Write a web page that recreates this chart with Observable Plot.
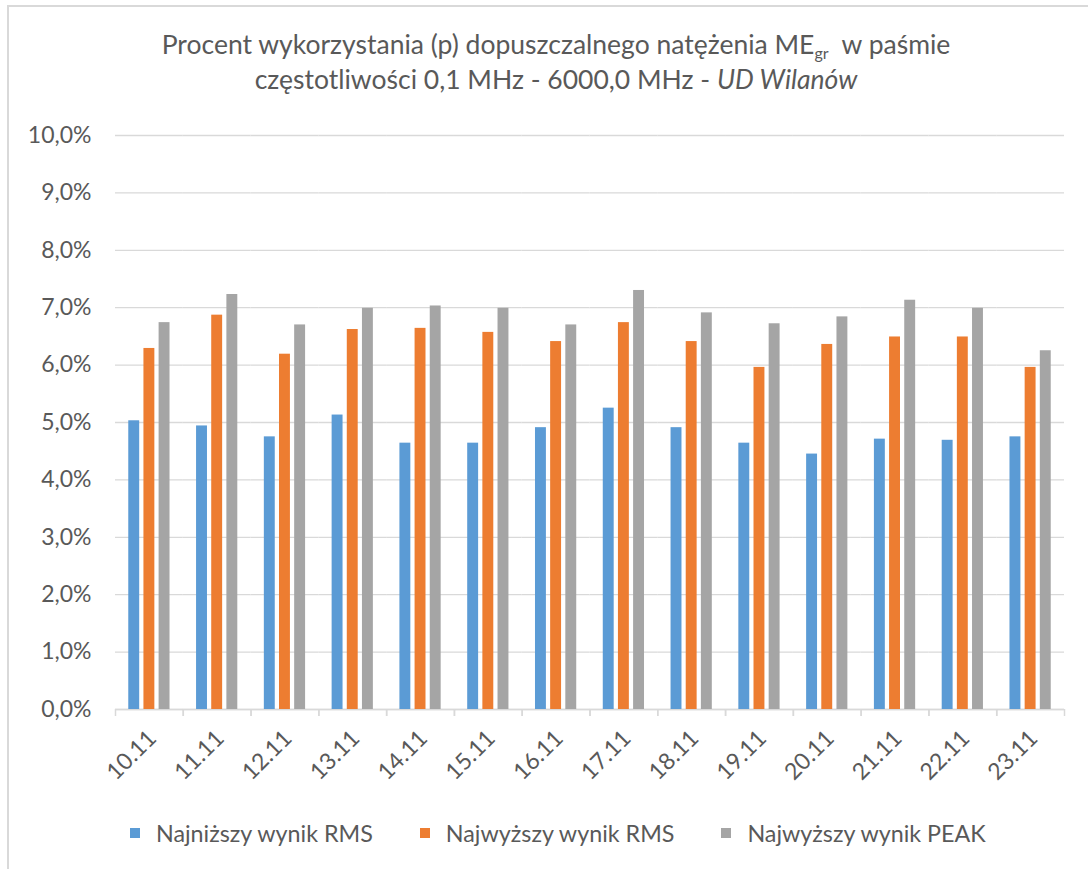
<!DOCTYPE html>
<html>
<head>
<meta charset="utf-8">
<script src="https://cdn.jsdelivr.net/npm/d3@7"></script>
<script src="https://cdn.jsdelivr.net/npm/@observablehq/plot@0.6"></script>
<style>
  html, body { margin: 0; padding: 0; background: #fff; width: 1088px; height: 869px; overflow: hidden; }
  #frame { position: absolute; left: 7px; top: 5px; width: 1200px; height: 1000px; border: 2px solid #d9d9d9; box-sizing: border-box; }
  #title { position: absolute; left: 0; top: 27px; width: 1112px; text-align: center; font-family: Lato, sans-serif; font-size: 26.5px; line-height: 35px; color: #595959; }
  #title sub { font-size: 16px; vertical-align: -5px; line-height: 0; }
  #chart { position: absolute; left: 8px; top: 110px; }
  #legend { position: absolute; left: 130px; top: 818px; display: flex; font-family: Lato, sans-serif; font-size: 23.3px; color: #595959; line-height: 30px; }
  #legend .item { display: flex; align-items: center; margin-right: 47px; }
  #legend .sw { width: 10px; height: 10px; margin-right: 16px; }
</style>
</head>
<body>
<div id="frame"></div>
<div id="title">Procent wykorzystania (p) dopuszczalnego natężenia ME<sub>gr</sub>&nbsp; w paśmie<br>częstotliwości 0,1 MHz - 6000,0 MHz - <i>UD Wilanów</i></div>
<div id="chart"></div>
<div id="legend"></div>
<script>
const dates = ["10.11","11.11","12.11","13.11","14.11","15.11","16.11","17.11","18.11","19.11","20.11","21.11","22.11","23.11"];
const seriesNames = ["Najniższy wynik RMS", "Najwyższy wynik RMS", "Najwyższy wynik PEAK"];
const lowRMS  = [5.03, 4.94, 4.75, 5.13, 4.64, 4.64, 4.91, 5.25, 4.91, 4.64, 4.45, 4.71, 4.69, 4.75];
const highRMS = [6.29, 6.87, 6.19, 6.62, 6.64, 6.57, 6.41, 6.74, 6.41, 5.96, 6.36, 6.49, 6.49, 5.96];
const peak    = [6.74, 7.23, 6.70, 6.99, 7.03, 6.99, 6.70, 7.30, 6.91, 6.72, 6.84, 7.13, 6.99, 6.25];
const yTicks = [0, 1, 2, 3, 4, 5, 6, 7, 8, 9, 10];
const colors = ["#5b9bd5", "#ed7d31", "#a5a5a5"];

const seriesValues = [lowRMS, highRMS, peak];
const rows = [];
dates.forEach((d, i) => seriesNames.forEach((s, j) => rows.push({date: d, series: s, value: seriesValues[j][i]})));

const fmt = v => v.toFixed(1).replace(".", ",") + "%";

const W = 1080, ML = 107, MR = 24;
const half = (W - ML - MR) / dates.length / 2;

const chart = Plot.plot({
  width: W, height: 689,
  marginLeft: ML, marginRight: MR, marginTop: 25, marginBottom: 90,
  style: {fontFamily: "Lato, sans-serif", fontSize: "23px", color: "#595959", background: "transparent"},
  fx: {domain: dates, padding: 0, round: false, label: null},
  x: {domain: seriesNames, paddingInner: 0.28, paddingOuter: 0.875, round: false, axis: null},
  y: {domain: [0, 10], label: null},
  color: {domain: seriesNames, range: colors},
  marks: [
    Plot.gridY(yTicks, {stroke: "#d9d9d9", strokeOpacity: 1, strokeWidth: 1.3}),
    Plot.axisY(yTicks, {tickSize: 0, tickPadding: 24, tickFormat: fmt, label: null}),
    Plot.ruleY([0], {stroke: "#d9d9d9", strokeWidth: 1.5}),
    Plot.barY(rows, {fx: "date", x: "series", y: "value", fill: "series"}),
    Plot.axisFx({anchor: "bottom", tickSize: 7, tickFormat: () => "", dx: -half, stroke: "#d9d9d9", strokeWidth: 1.5, label: null}),
    Plot.axisFx([dates[dates.length - 1]], {anchor: "bottom", tickSize: 7, tickFormat: () => "", dx: half, stroke: "#d9d9d9", strokeWidth: 1.5, label: null}),
    Plot.axisFx({anchor: "bottom", tickSize: 0, tickPadding: 25, dx: 3, tickRotate: -45, label: null})
  ]
});
document.getElementById("chart").appendChild(chart);

const legend = document.getElementById("legend");
seriesNames.forEach((s, i) => {
  const item = document.createElement("div");
  item.className = "item";
  const sw = document.createElement("div");
  sw.className = "sw";
  sw.style.background = colors[i];
  const t = document.createElement("span");
  t.textContent = s;
  item.appendChild(sw); item.appendChild(t);
  legend.appendChild(item);
});
</script>
</body>
</html>
